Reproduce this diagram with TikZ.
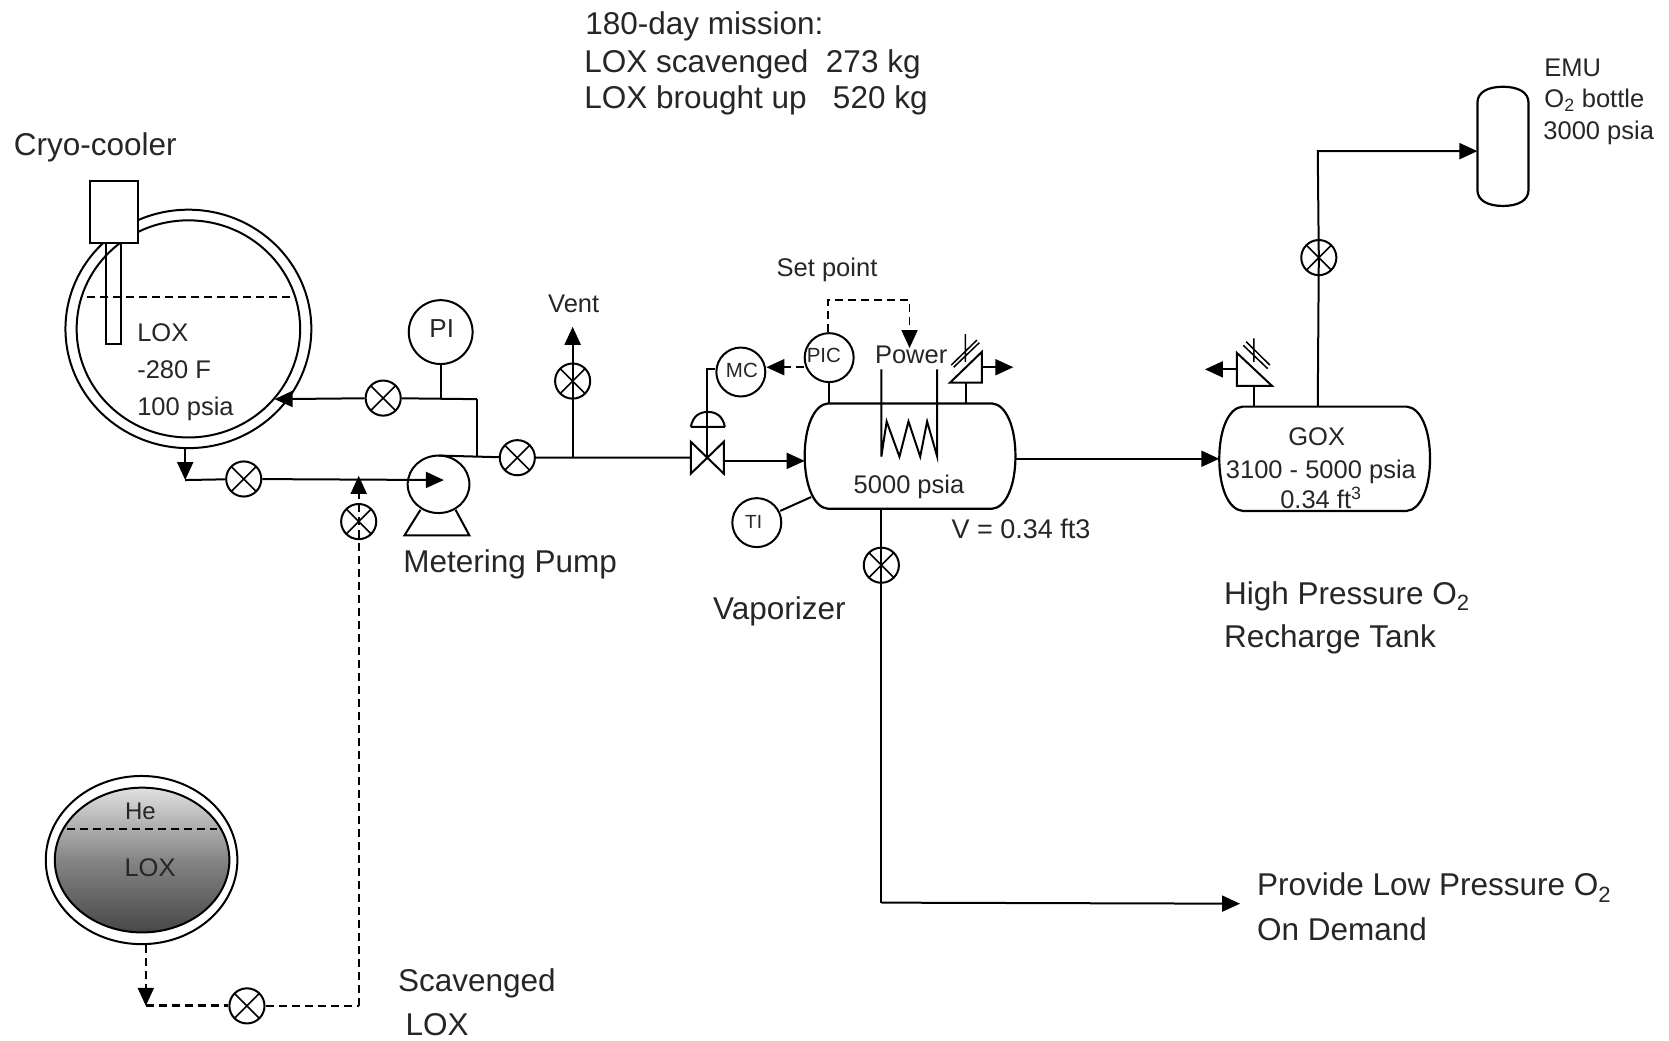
\documentclass[tikz,border=0pt]{standalone}
\usepackage{fontspec}
\setmainfont{Liberation Sans}
\usetikzlibrary{arrows.meta,shapes.geometric}
\def\u{1.0644pt}
\tikzset{
  lbl/.style={inner sep=0pt,outer sep=0pt,text=black!85,font=\fontsize{25.5}{30}\selectfont},
  big/.style={lbl,font=\fontsize{31.5}{36}\selectfont},
  inst/.style={draw,circle,line width=2pt,inner sep=0pt,minimum size=46*\u},
  instlbl/.style={font=\fontsize{20.5}{24}\selectfont,text=black!85},
  valve/.style={draw,circle,line width=2pt,inner sep=0pt,minimum size=33*\u,
    path picture={\draw[line width=1.6pt] (path picture bounding box.north west)--(path picture bounding box.south east)
      (path picture bounding box.north east)--(path picture bounding box.south west);}},
  pipe/.style={line width=2pt},
  flow/.style={line width=2pt,-{Triangle[length=18pt,width=16pt]}},
  sig/.style={line width=1.8pt,dash pattern=on 8pt off 5pt},
  sigflow/.style={sig,-{Triangle[length=18pt,width=16pt,sep=0pt]}},
  vesselline/.style={line width=2.2pt},
  ghost/.style={rectangle,inner sep=0pt,outer sep=0pt},
}
\begin{document}
\begin{tikzpicture}[x=1.0644pt,y=-1.0644pt]
\useasboundingbox (0,0) rectangle (1568,978);
\fill[white] (0,0) rectangle (1568,978);

% Top notes
\node[big,anchor=west] (n1) at (550,25) {180-day mission:};
\node[big,anchor=west] (n2) at (549,60) {LOX scavenged\ \ 273 kg};
\node[big,anchor=west] (n3) at (549,94) {LOX brought up\ \ \ 520 kg};

% Cryo tank
\node[big,anchor=west] (cryolbl) at (13,138) {Cryo-cooler};
\node[draw,ellipse,line width=2pt,inner sep=0pt,minimum width=231*\u,minimum height=224*\u] (lox) at (177,309) {};
\node[draw,ellipse,line width=2pt,inner sep=0pt,minimum width=210*\u,minimum height=204*\u] (loxin) at (177,309) {};
\node[draw,fill=white,rectangle,line width=2pt,inner sep=0pt,minimum width=45*\u,minimum height=58*\u] (cryo) at (107.5,199) {};
\node[draw,rectangle,line width=1.8pt,inner sep=0pt,minimum width=14*\u,minimum height=94*\u,anchor=north] (rod) at (106.5,228) {};
\coordinate (lvlA) at (82,279);
\coordinate (lvlB) at (275,279);
\draw[sig,line width=1.5pt] (lvlA)--(lvlB);
\node[lbl,anchor=west] (t1) at (129,313) {LOX};
\node[lbl,anchor=west] (t2) at (129,347) {-280 F};
\node[lbl,anchor=west] (t3) at (129,384) {100 psia};

% Pump
\node[draw,ellipse,line width=2pt,inner sep=0pt,minimum width=58*\u,minimum height=54*\u] (pump) at (412,455) {};
\coordinate (baseL) at (380,503);
\coordinate (baseR) at (441,503);
\draw[pipe,line join=miter] (395,479)--(baseL)--(baseR)--(428,479);
\node[big,anchor=west] (pumplbl) at (379,530) {Metering Pump};
\coordinate (pin) at (417,451);
\coordinate (outl) at (174,451);
\coordinate (ret) at (258,375);
\coordinate (jct) at (448,375);
\coordinate (jctb) at (448,428);
\coordinate (pumpout) at (412,428);

% Valves
\node[valve] (v1) at (229,450) {};
\node[valve] (v2) at (360,374) {};
\node[valve] (v3) at (486,430) {};
\node[valve] (v4) at (538,358) {};
\node[valve] (v5) at (337,490) {};
\node[valve] (v6) at (828,531) {};
\node[valve] (v7) at (1239,242) {};
\node[valve] (v8) at (232,945) {};

% Instruments
\node[inst,minimum size=60*\u] (pi) at (414,312) {};
\node[instlbl,font=\fontsize{26}{30}\selectfont] (pit) at (415,309) {PI};
\node[inst] (mc) at (696,349.5) {};
\node[instlbl] (mct) at (697,348) {MC};
\node[inst] (pic) at (779,336) {};
\node[instlbl] (pict) at (774,334) {PIC};
\node[inst] (ti) at (711,491) {};
\node[instlbl,font=\fontsize{19}{24}\selectfont] (tit) at (708,490) {TI};

% Vessels
\node[ghost,minimum width=198*\u,minimum height=99*\u] (vap) at (855,428.5) {};
\draw[vesselline] (vap.north west) ++(22,0) -- ++(154,0)
  .. controls +(13,1) and +(0,-28) .. ++(22,49.5)
  .. controls +(0,28) and +(13,-1) .. ++(-22,49.5)
  -- ++(-154,0)
  .. controls +(-13,-1) and +(0,28) .. ++(-22,-49.5)
  .. controls +(0,-28) and +(-13,1) .. ++(22,-49.5) -- cycle;
\node[ghost,minimum width=198*\u,minimum height=98*\u] (gox) at (1244.5,431) {};
\draw[vesselline] (gox.north west) ++(22,0) -- ++(154,0)
  .. controls +(13,1) and +(0,-28) .. ++(22,49)
  .. controls +(0,28) and +(13,-1) .. ++(-22,49)
  -- ++(-154,0)
  .. controls +(-13,-1) and +(0,28) .. ++(-22,-49)
  .. controls +(0,-28) and +(-13,1) .. ++(22,-49) -- cycle;
\node[ghost,minimum width=48*\u,minimum height=112*\u] (emu) at (1412,137.5) {};
\draw[vesselline] (emu.north) .. controls +(-14,0) and +(0,-10) .. ++(-24,15)
  -- ++(0,82)
  .. controls +(0,10) and +(-14,0) .. ++(24,15)
  .. controls +(14,0) and +(0,10) .. ++(24,-15)
  -- ++(0,-82)
  .. controls +(0,-10) and +(14,0) .. ++(-24,-15) -- cycle;

% Control valve
\node[ghost,minimum width=31*\u,minimum height=30*\u] (cv) at (664.5,430) {};
\draw[pipe,line join=miter] (cv.north west)--(cv.south east)--(cv.north east)--(cv.south west)--cycle;
\coordinate (domeL) at (649,401);
\coordinate (domeR) at (681,401);
\draw[pipe] (domeL)--(domeR) (domeL) .. controls (651,391) and (657,387) .. (665,387) .. controls (673,387) and (679,391) .. (domeR);
\coordinate (cvup) at (664.5,347);
\draw[pipe] (cv.center)--(cvup)--(mc.west |- cvup);

% Relief valve 1
\node[ghost,minimum width=30*\u,minimum height=29*\u] (rv1) at (907.5,345) {};
\draw[pipe,line join=miter] (rv1.south west)--(rv1.south east)--(rv1.north east)--cycle;
\draw[line width=1.5pt] (893.7,343)--(917.8,319.5) (896,345)--(920,322) (907,314)--(907,340);
\draw[pipe] (rv1.south)--(rv1.south |- vap.north);
\draw[flow] (rv1.east)--(952,345);
% Relief valve 2
\node[ghost,minimum width=33*\u,minimum height=31*\u] (rv2) at (1178.5,347) {};
\draw[pipe,line join=miter] (rv2.south east)--(rv2.south west)--(rv2.north west)--cycle;
\draw[line width=1.5pt] (1168,324.4)--(1191,346.4) (1170.7,321)--(1193,343) (1178,318)--(1178,340);
\draw[pipe] (rv2.south)--(rv2.south |- gox.north);
\draw[flow] (rv2.west)--(1132,347);

% Heater
\coordinate (hL) at (828,347);
\coordinate (hR) at (880.5,347);
\draw[pipe,line join=miter] (hL)--(828,429)--(833,396)--(845,429)--(853.5,396)--(864.5,429)--(871,396)--(880.5,429)--(hR);

% Piping
\draw[flow] (outl |- lox.south)--(outl);
\draw[flow] (outl)--(v1)--(pin);
\draw[pipe] (pumpout)--(v3)--(cv.west);
\draw[pipe] (jctb)--(jct);
\draw[flow] (jct)--(v2)--(ret);
\draw[pipe] (pi.south)--(pi.south |- jct);
\draw[flow] (v4 |- v3)--(v4.center)--(538,307);
\draw[flow] (cv.east |- 0,433)--(vap.west |- 0,433);
\draw[pipe] (pic.south)--(pic.south |- vap.north);
\draw[pipe] (733,480)--(762,467);
\draw[sigflow] (pic.west |- 0,345)--(mc.east |- 0,345);
\coordinate (spA) at (778,282);
\coordinate (spB) at (854.5,282);
\draw[sigflow] (pic.north -| spA)--(spA)--(spB)--(854.5,327);
\coordinate (lowc) at (828,848);
\draw[flow] (vap.east |- 0,431)--(gox.west |- 0,431);
\draw[pipe] (828,478)--(v6.center)--(lowc);
\coordinate (lowt) at (1165,849);
\draw[flow] (lowc)--(lowt);
\coordinate (goxc) at (1238,142);
\draw[flow] (goxc |- gox.north)--(v7.center)--(goxc)--(emu.west |- goxc);

% Scavenging tank
\node[draw,ellipse,line width=2pt,inner sep=0pt,minimum width=180*\u,minimum height=158*\u] (sc) at (133,808) {};
\node[draw,ellipse,line width=2pt,inner sep=0pt,minimum width=164*\u,minimum height=136*\u,top color=black!12,bottom color=black!72,middle color=black!48] (scin) at (133.5,808) {};
\draw[sig,line width=1.5pt] (63,779)--(204,779);
\node[lbl,font=\fontsize{24}{28}\selectfont] (het) at (132,762) {He};
\node[lbl] (loxt) at (141,815) {LOX};
\coordinate (sA) at (137,945);
\coordinate (sB) at (337,945);
\draw[sigflow] (sA |- sc.south)--(sA);
\draw[sig,line width=3pt] (sA)--(v8);
\draw[sig] (v8)--(sB);
\draw[sigflow] (sB)--(v5.center)--(337,447);

% Labels
\node[lbl] (vent) at (539,285) {Vent};
\node[lbl] (setp) at (777,254) {Set point};
\node[lbl] (pow) at (856,333) {Power};
\node[lbl] (p5k) at (854,457) {5000 psia};
\node[lbl,anchor=west,font=\fontsize{27}{30}\selectfont] (vv) at (894,497) {V = 0.34 ft3};
\node[big,anchor=west] (vapl) at (670,574) {Vaporizer};
\node[lbl] (g1) at (1237,410) {GOX};
\node[lbl] (g2) at (1241,443) {3100 - 5000 psia};
\node[lbl] (g3) at (1241,468) {0.34 ft\textsuperscript{3}};
\node[big,anchor=west] (hp1) at (1150,560) {High Pressure O\textsubscript{2}};
\node[big,anchor=west] (hp2) at (1150,601) {Recharge Tank};
\node[big,anchor=west] (lp1) at (1181,834) {Provide Low Pressure O\textsubscript{2}};
\node[big,anchor=west] (lp2) at (1181,873) {On Demand};
\node[lbl,anchor=west] (e1) at (1451,64) {EMU};
\node[lbl,anchor=west] (e2) at (1451,94) {O\textsubscript{2} bottle};
\node[lbl,anchor=west] (e3) at (1450,125) {3000 psia};
\node[big,anchor=west] (s1) at (374,924) {Scavenged};
\node[big,anchor=west] (s2) at (381,963) {LOX};
\end{tikzpicture}
\end{document}
